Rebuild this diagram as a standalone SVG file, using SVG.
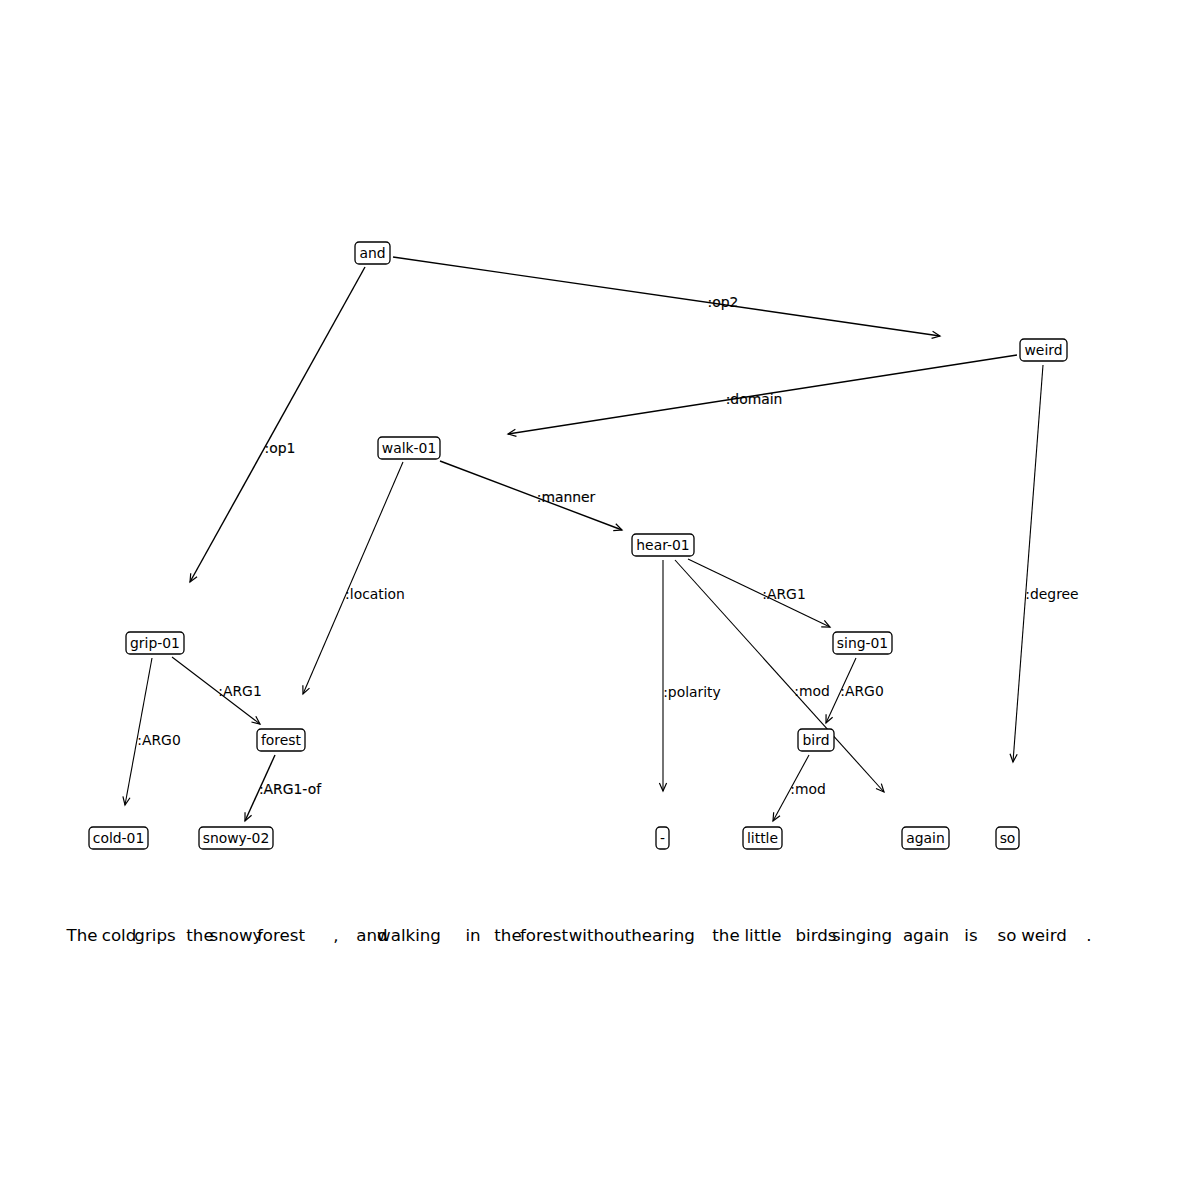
<svg xmlns="http://www.w3.org/2000/svg" width="1189" height="1190" viewBox="0 0 1189 1190">
<style>
.bg{fill:#fff}
.node rect{fill:#fff;stroke:#000;stroke-width:1.3}
.node text{font-family:"DejaVu Sans","Liberation Sans",sans-serif;font-size:13.9px;text-anchor:middle;fill:#000}
.edges line{stroke:#000;stroke-width:1.1;fill:none;marker-end:url(#arr)}
.edges line.dbl{stroke-width:1.4}
.lbl{font-family:"DejaVu Sans","Liberation Sans",sans-serif;font-size:13.9px;text-anchor:middle;fill:#000}
.lbl.dbl{stroke:#000;stroke-width:0.15}
.words text{font-family:"DejaVu Sans","Liberation Sans",sans-serif;font-size:16.67px;text-anchor:middle;fill:#000}
</style>
<defs>
<marker id="arr" markerUnits="userSpaceOnUse" markerWidth="14" markerHeight="14" viewBox="-11 -7 14 14" refX="0" refY="0" orient="auto" overflow="visible">
<path d="M-8,-3.6 L0,0 L-8,3.6" fill="none" stroke="#000" stroke-width="1.2"/>
</marker>
</defs>
<rect class="bg" x="0" y="0" width="1189" height="1190"/>
<g id="connectors" class="edges">
<line class="dbl" x1="393" y1="257" x2="940" y2="336"/>
<line class="dbl" x1="365" y1="267" x2="190" y2="582"/>
<line class="dbl" x1="1017" y1="355" x2="508" y2="434"/>
<line class="dbl" x1="440" y1="461" x2="622" y2="530"/>
<line x1="403" y1="462" x2="303" y2="694"/>
<line x1="1043" y1="365" x2="1013" y2="762"/>
<line x1="688" y1="559" x2="830" y2="627"/>
<line x1="663" y1="560" x2="663" y2="791"/>
<line x1="675" y1="560" x2="884" y2="792"/>
<line x1="856" y1="658" x2="826" y2="723"/>
<line x1="809" y1="755" x2="773" y2="821"/>
<line x1="172" y1="657" x2="260" y2="724"/>
<line x1="152" y1="658" x2="125" y2="805"/>
<line class="dbl" x1="275" y1="755" x2="245" y2="821"/>
</g>
<g id="edge-labels">
<text class="lbl dbl" x="723" y="307">:op2</text>
<text class="lbl dbl" x="280" y="453">:op1</text>
<text class="lbl dbl" x="754" y="404">:domain</text>
<text class="lbl dbl" x="566" y="502">:manner</text>
<text class="lbl" x="375" y="599">:location</text>
<text class="lbl" x="1052" y="599">:degree</text>
<text class="lbl" x="784" y="599">:ARG1</text>
<text class="lbl" x="692" y="697">:polarity</text>
<text class="lbl" x="812" y="696">:mod</text>
<text class="lbl" x="862" y="696">:ARG0</text>
<text class="lbl" x="808" y="794">:mod</text>
<text class="lbl" x="240" y="696">:ARG1</text>
<text class="lbl" x="159" y="745">:ARG0</text>
<text class="lbl dbl" x="290" y="794">:ARG1-of</text>
</g>
<g id="n-and" class="node"><rect x="355" y="242" width="35" height="22" rx="4"/><text x="372.5" y="258">and</text></g>
<g id="n-weird" class="node"><rect x="1020" y="339" width="47" height="22" rx="4"/><text x="1043.5" y="355">weird</text></g>
<g id="n-walk-01" class="node"><rect x="378" y="437" width="62" height="22" rx="4"/><text x="409" y="453">walk-01</text></g>
<g id="n-hear-01" class="node"><rect x="632" y="534" width="62" height="22" rx="4"/><text x="663" y="550">hear-01</text></g>
<g id="n-grip-01" class="node"><rect x="126" y="632" width="58" height="22" rx="4"/><text x="155" y="648">grip-01</text></g>
<g id="n-sing-01" class="node"><rect x="833" y="632" width="59" height="22" rx="4"/><text x="862.5" y="648">sing-01</text></g>
<g id="n-forest" class="node"><rect x="257" y="729" width="48" height="22" rx="4"/><text x="281" y="745">forest</text></g>
<g id="n-bird" class="node"><rect x="798" y="729" width="36" height="22" rx="4"/><text x="816" y="745">bird</text></g>
<g id="n-cold-01" class="node"><rect x="89" y="827" width="59" height="22" rx="4"/><text x="118.5" y="843">cold-01</text></g>
<g id="n-snowy-02" class="node"><rect x="199" y="827" width="74" height="22" rx="4"/><text x="236" y="843">snowy-02</text></g>
<g id="n-neg" class="node"><rect x="656" y="827" width="13" height="22" rx="4"/><text x="662.5" y="843">-</text></g>
<g id="n-little" class="node"><rect x="743" y="827" width="39" height="22" rx="4"/><text x="762.5" y="843">little</text></g>
<g id="n-again" class="node"><rect x="902" y="827" width="47" height="22" rx="4"/><text x="925.5" y="843">again</text></g>
<g id="n-so" class="node"><rect x="996" y="827" width="23" height="22" rx="4"/><text x="1007.5" y="843">so</text></g>
<g id="sentence" class="words">
<text x="82" y="941">The</text>
<text x="119" y="941">cold</text>
<text x="155" y="941">grips</text>
<text x="200" y="941">the</text>
<text x="236" y="941">snowy</text>
<text x="281" y="941">forest</text>
<text x="336" y="941">,</text>
<text x="372" y="941">and</text>
<text x="409" y="941">walking</text>
<text x="473" y="941">in</text>
<text x="508" y="941">the</text>
<text x="544" y="941">forest</text>
<text x="600" y="941">without</text>
<text x="663" y="941">hearing</text>
<text x="726" y="941">the</text>
<text x="763" y="941">little</text>
<text x="816" y="941">birds</text>
<text x="862" y="941">singing</text>
<text x="926" y="941">again</text>
<text x="971" y="941">is</text>
<text x="1007" y="941">so</text>
<text x="1044" y="941">weird</text>
<text x="1089" y="941">.</text>
</g>
</svg>
